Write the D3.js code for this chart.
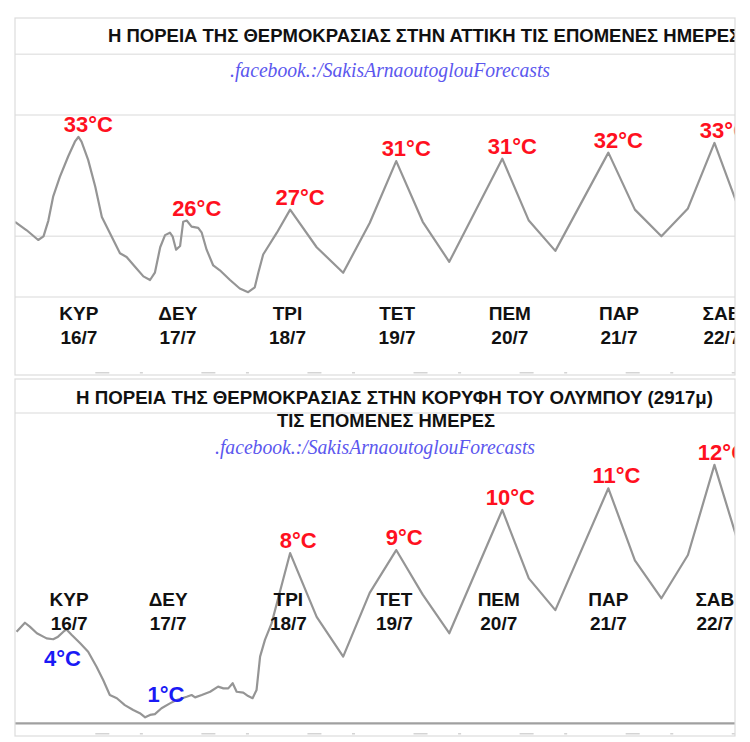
<!DOCTYPE html>
<html><head><meta charset="utf-8">
<script src="https://cdn.jsdelivr.net/npm/d3@7"></script>
<style>body{margin:0;background:#fff}svg{display:block}</style>
</head><body>
<script>
// ---------- DATA ----------
// Attica: hours since 16/7 00:00 and temperature (°C)
const attikiHours = [0.75,3.4,6.0,7.2,8.3,9.4,10.9,12.8,14.3,15.1,15.8,17.3,18.9,20.4,21.9,24.5,26.0,27.9,29.8,31.3,32.4,33.6,34.7,35.8,36.4,37.2,38.1,38.8,39.6,40.7,42.2,43.0,44.1,45.6,47.1,49.4,51.6,53.5,55.0,55.8,56.9,60,63,69,75,81,87,93,99,111,117,123,135,141,147,153,159,165];
const attikiTemps = [26.2,25.5,24.7,25.0,26.3,28.3,29.9,31.6,32.8,33.2,32.8,31.3,29.1,26.6,25.5,23.6,23.3,22.5,21.7,21.4,22.0,24.1,25.1,25.3,25.0,23.9,24.2,26.2,26.3,25.8,25.7,25.3,23.9,22.6,22.2,21.4,20.7,20.4,20.8,22.0,23.5,25.3,27.2,24.1,22.0,26.1,31.2,26.2,22.9,31.4,26.3,23.8,31.9,27.2,25.0,27.3,32.7,26.8];
const attikiPeakText = ["33°C","26°C","27°C","31°C","31°C","32°C","33°C"];
const attikiPeakHours = [15.1,39.6,63,87,111,135,159];
const attikiGrid = [40,35,25,20];

// Olympus summit
const olymposHours = [1.1,3.0,4.1,5.7,7.9,9.4,10.5,11.7,12.4,13.6,15.5,17.3,19.2,20.7,22.2,23.8,25.6,27.5,29.0,30.2,31.3,32.4,33.9,35.8,37.3,39.6,40.7,41.5,43.0,44.9,46.7,47.9,49.0,50.0,50.9,52.4,53.5,54.5,55.4,56.2,57.3,58.8,60,63,69,75,81,87,93,99,111,117,123,135,141,147,153,159,165];
const olymposTemps = [4.27,4.69,4.51,4.20,3.96,3.92,4.04,4.27,4.38,4.12,3.73,3.34,2.64,2.02,1.32,1.17,0.85,0.62,0.47,0.28,0.39,0.43,0.70,0.93,1.09,1.24,1.32,1.21,1.32,1.47,1.71,1.63,1.63,1.87,1.47,1.43,1.27,1.17,1.55,3.11,3.89,4.66,5.60,7.94,4.96,3.11,6.08,8.08,6.0,4.20,9.95,6.76,5.28,10.96,7.6,5.83,7.85,12.05,8.0];
const olymposPeakText = ["8°C","9°C","10°C","11°C","12°C"];
const olymposPeakHours = [63,87,111,135,159];
const olymposMinText = ["4°C","1°C"];
const olymposMinHours = [11.5,34.9];
const olymposMinTemps = [2.67,0.99];

// Day labels
const dayNames = ["ΚΥΡ","ΔΕΥ","ΤΡΙ","ΤΕΤ","ΠΕΜ","ΠΑΡ","ΣΑΒ"];
const dayDates = ["16/7","17/7","18/7","19/7","20/7","21/7","22/7"];
const attikiDayHours = [15.2,37.6,62.4,87.2,112.7,137.4,160.7];
const olymposDayHours = [13.0,35.4,62.6,86.6,110.2,135.0,159.1];

const title1 = "Η ΠΟΡΕΙΑ ΤΗΣ ΘΕΡΜΟΚΡΑΣΙΑΣ ΣΤΗΝ ΑΤΤΙΚΗ ΤΙΣ ΕΠΟΜΕΝΕΣ ΗΜΕΡΕΣ";
const title2a = "Η ΠΟΡΕΙΑ ΤΗΣ ΘΕΡΜΟΚΡΑΣΙΑΣ ΣΤΗΝ ΚΟΡΥΦΗ ΤΟΥ ΟΛΥΜΠΟΥ (2917μ)";
const title2b = "ΤΙΣ ΕΠΟΜΕΝΕΣ ΗΜΕΡΕΣ";
const credit = ".facebook.:/SakisArnaoutoglouForecasts";

// ---------- DRAW ----------
const W = 750, H = 742;
const svg = d3.select("body").append("svg").attr("width", W).attr("height", H);
const L = 15, R = 735;
const x = d3.scaleLinear().domain([0.75, 163.65]).range([L, R]);
const font = "'Liberation Sans', Arial, sans-serif";
const serif = "'Liberation Serif', 'DejaVu Serif', serif";

function panel(top, bottom, id) {
  svg.append("clipPath").attr("id", id).append("rect")
    .attr("x", L).attr("y", top).attr("width", R - L).attr("height", bottom - top);
  return svg.append("g").attr("clip-path", `url(#${id})`);
}
function valueAt(hours, temps, h) {
  const i = hours.findIndex(v => Math.abs(v - h) < 0.01);
  return temps[i];
}
function bottomFrags(g, yb) {
  const d = d3.range(0, 7);
  g.selectAll(null).data(d).join("rect")
    .attr("x", k => x(k * 24 + 20.5) - 7).attr("y", yb - 2).attr("width", 14).attr("height", 1.5)
    .attr("fill", "#d4d4d4");
  g.selectAll(null).data(d).join("rect")
    .attr("x", k => x(k * 24 + 29)).attr("y", yb - 2).attr("width", 3).attr("height", 1.5)
    .attr("fill", "#d4d4d4");
}
function dayLabels(g, hours, yName, yDate) {
  const dl = g.selectAll(null).data(hours).join("g");
  dl.append("text").attr("x", h => x(h)).attr("y", yName).attr("text-anchor", "middle")
    .attr("font-family", font).attr("font-weight", "bold").attr("font-size", 19).attr("fill", "#111")
    .text((h, i) => dayNames[i]);
  dl.append("text").attr("x", h => x(h)).attr("y", yDate).attr("text-anchor", "middle")
    .attr("font-family", font).attr("font-weight", "bold").attr("font-size", 19).attr("fill", "#111")
    .text((h, i) => dayDates[i]);
}

// ===== Panel 1 =====
const p1Top = 18, p1Bot = 375;
const y1 = d3.scaleLinear().domain([20, 35]).range([297, 115]);
const g1 = panel(p1Top, p1Bot, "c1");
g1.selectAll(".grid").data(attikiGrid).join("line")
  .attr("x1", L).attr("x2", R).attr("y1", d => y1(d)).attr("y2", d => y1(d))
  .attr("stroke", "#e6e6e6").attr("stroke-width", 1.5);
bottomFrags(g1, p1Bot - 1);
g1.append("text").attr("x", 108).attr("y", 41.5).attr("font-family", font)
  .attr("font-weight", "bold").attr("font-size", 18.5).attr("fill", "#111").text(title1);
g1.append("text").attr("x", 230).attr("y", 77).attr("font-family", serif)
  .attr("font-style", "italic").attr("font-size", 21).attr("fill", "#5b57ee")
  .attr("textLength", 320).attr("lengthAdjust", "spacingAndGlyphs").text(credit);
const line1 = d3.line().x((d, i) => x(attikiHours[i])).y(d => y1(d));
g1.append("path").datum(attikiTemps).attr("d", line1).attr("fill", "none")
  .attr("stroke", "#959595").attr("stroke-width", 2.2).attr("stroke-linejoin", "round");
g1.selectAll(".pk").data(attikiPeakHours).join("text")
  .attr("x", h => x(h) + 10).attr("y", h => y1(valueAt(attikiHours, attikiTemps, h)) - 5)
  .attr("text-anchor", "middle").attr("font-family", font).attr("font-weight", "bold")
  .attr("font-size", 22).attr("fill", "#ff1020").text((h, i) => attikiPeakText[i]);
dayLabels(g1, attikiDayHours, 320, 344);
svg.append("rect").attr("x", L).attr("y", p1Top).attr("width", R - L).attr("height", p1Bot - p1Top)
  .attr("fill", "none").attr("stroke", "#dcdcdc").attr("stroke-width", 1.2);

// ===== Panel 2 =====
const p2Top = 379, p2Bot = 736;
const y2 = d3.scaleLinear().domain([0, 12]).range([723.3, 466]);
const g2 = panel(p2Top, p2Bot, "c2");
g2.append("line").attr("x1", L).attr("x2", R).attr("y1", 413).attr("y2", 413)
  .attr("stroke", "#e6e6e6").attr("stroke-width", 1.5);
g2.append("line").attr("x1", L).attr("x2", R).attr("y1", y2(0)).attr("y2", y2(0))
  .attr("stroke", "#a0a0a0").attr("stroke-width", 2.2);
bottomFrags(g2, p2Bot - 1);
g2.append("text").attr("x", 76).attr("y", 403.5).attr("font-family", font)
  .attr("font-weight", "bold").attr("font-size", 18.5).attr("fill", "#111")
  .attr("textLength", 637).attr("lengthAdjust", "spacingAndGlyphs").text(title2a);
g2.append("text").attr("x", 277).attr("y", 426.5).attr("font-family", font)
  .attr("font-weight", "bold").attr("font-size", 18.5).attr("fill", "#111")
  .attr("textLength", 218).attr("lengthAdjust", "spacingAndGlyphs").text(title2b);
g2.append("text").attr("x", 215).attr("y", 454).attr("font-family", serif)
  .attr("font-style", "italic").attr("font-size", 21).attr("fill", "#5b57ee")
  .attr("textLength", 320).attr("lengthAdjust", "spacingAndGlyphs").text(credit);
const line2 = d3.line().x((d, i) => x(olymposHours[i])).y(d => y2(d));
g2.append("path").datum(olymposTemps).attr("d", line2).attr("fill", "none")
  .attr("stroke", "#959595").attr("stroke-width", 2.2).attr("stroke-linejoin", "round");
g2.selectAll(".pk").data(olymposPeakHours).join("text")
  .attr("x", h => x(h) + 8).attr("y", h => y2(valueAt(olymposHours, olymposTemps, h)) - 5)
  .attr("text-anchor", "middle").attr("font-family", font).attr("font-weight", "bold")
  .attr("font-size", 22).attr("fill", "#ff1020").text((h, i) => olymposPeakText[i]);
g2.selectAll(".mn").data(olymposMinHours).join("text")
  .attr("x", h => x(h)).attr("y", (h, i) => y2(olymposMinTemps[i]))
  .attr("text-anchor", "middle").attr("font-family", font).attr("font-weight", "bold")
  .attr("font-size", 22).attr("fill", "#1a1af5").text((h, i) => olymposMinText[i]);
dayLabels(g2, olymposDayHours, 606, 630);
svg.append("rect").attr("x", L).attr("y", p2Top).attr("width", R - L).attr("height", p2Bot - p2Top)
  .attr("fill", "none").attr("stroke", "#dcdcdc").attr("stroke-width", 1.2);
</script>
</body></html>
